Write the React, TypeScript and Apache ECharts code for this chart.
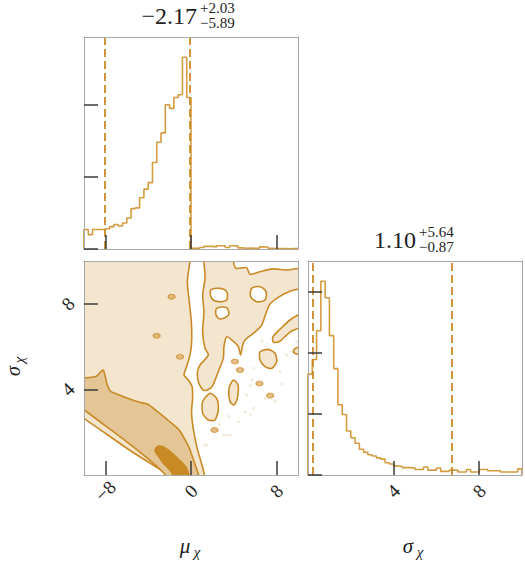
import React, { useEffect, useRef } from "react";
import * as echarts from "echarts";

// ---------- data ----------
const muRange = [-10, 10];
const sigmaRange = [0, 10];

// normalised histogram heights of mu_chi (50 bins over muRange)
const muHist = [
  0.27, 0.2, 0.27, 0.27, 0.27, 0.28, 0.31, 0.34, 0.32, 0.36,
  0.43, 0.56, 0.57, 0.71, 0.83, 0.92, 1.2, 1.48, 1.61, 2.0,
  1.95, 2.1, 2.14, 2.66, 2.1, 0.01, 0.01, 0.02, 0.037, 0.037,
  0.03, 0.046, 0.046, 0.02, 0.046, 0.04, 0.015, 0.01, 0.012, 0.01,
  0.01, 0.03, 0.028, 0.008, 0.006, 0.005, 0.006, 0.004, 0.005, 0.005,
];
// normalised histogram heights of sigma_chi (50 bins over sigmaRange)
const sigmaHist = [
  1.65, 1.89, 2.36, 3.17, 2.9, 2.28, 1.74, 1.15, 0.99, 0.72,
  0.61, 0.52, 0.42, 0.37, 0.33, 0.31, 0.28, 0.26, 0.2, 0.18,
  0.15, 0.14, 0.12, 0.12, 0.115, 0.09, 0.09, 0.13, 0.08, 0.08,
  0.115, 0.06, 0.06, 0.08, 0.08, 0.05, 0.05, 0.09, 0.05, 0.05,
  0.09, 0.09, 0.07, 0.07, 0.07, 0.05, 0.05, 0.05, 0.05, 0.1,
];
const muQuantiles = [-8.06, -0.14];
const sigmaQuantiles = [0.23, 6.74];
const muTitle = { median: "\u22122.17", plus: "+2.03", minus: "\u22125.89" };
const sigmaTitle = { median: "1.10", plus: "+5.64", minus: "\u22120.87" };

const muTicks = [-8, 0, 8];
const sigmaTicks = [4, 8];
const muHistTicks = [0, 1, 2];
const sigmaHistTicks = [0, 1, 2, 3];
const muHistMax = 2.94;
const sigmaHistMax = 3.5;

// 2D contour regions (mu, sigma)
const outerLevel = [
  [[-10.5, 10.5], [-0.1, 10.5], [-0.1, 10], [-0.34, 9.03], [-0.16, 8.1], [0.03, 7.17], [0.06, 6.23],
   [-0.09, 5.61], [-0.47, 4.98], [-0.65, 4.67], [-0.25, 4.44], [0.1, 4.13], [0.15, 3.58], [0.05, 2.96],
   [0.2, 2.2], [0.55, 1.3], [0.95, 0.6], [1.25, 0], [1.3, -0.5], [-2.3, -0.5], [-2.2, 0], [-4, 0.6],
   [-6, 1.25], [-8, 1.95], [-10, 2.65], [-10.5, 2.9]],
  [[1.21, 10.5], [3.96, 10.5], [3.96, 10], [4.21, 9.66], [5.2, 9.69], [5.51, 9.38], [6.45, 9.5],
   [7.69, 9.63], [8.94, 9.58], [10.5, 9.63], [10.5, 8.8], [9.3, 8.6], [8.3, 8.35], [7.4, 8.0],
   [7.0, 7.55], [6.6, 7.0], [5.83, 6.62], [5.05, 6.31], [4.83, 6.07], [4.64, 5.61], [4.42, 6.0],
   [3.8, 6.31], [3.33, 6.46], [3.08, 6.0], [3.02, 5.45], [2.55, 4.83], [1.93, 4.1], [1.2, 3.95],
   [0.72, 4.3], [0.6, 4.8], [0.84, 5.14], [1.62, 5.61], [1.31, 5.92], [1.09, 6.7], [1.21, 7.63],
   [1.09, 8.41], [1.31, 9.19], [1.21, 10]],
  [[10.5, 7.55], [10.5, 7.0], [9.3, 6.7], [8.3, 6.25], [7.7, 6.2], [7.65, 6.45], [8.4, 6.85], [9.4, 7.3]],
  [[6.45, 5.76], [7.23, 5.87], [7.85, 5.69], [8.01, 5.3], [7.54, 4.98], [6.92, 5.06], [6.45, 5.37]],
  [[1.78, 3.82], [2.4, 3.58], [2.55, 3.04], [2.24, 2.57], [1.62, 2.57], [1.09, 2.88], [1.09, 3.43]],
  [[3.96, 4.44], [4.39, 4.21], [4.33, 3.58], [4.02, 3.27], [3.64, 3.43], [3.55, 4.05]],
  [[10.5, 6.0], [9.7, 5.9], [9.6, 5.72], [10.5, 5.6]],
];
const outerHoles = [
  [[1.84, 8.64], [2.71, 8.72], [3.33, 8.57], [3.33, 8.18], [2.55, 8.1], [1.93, 8.26]],
  [[2.4, 7.79], [3.33, 7.82], [3.52, 7.48], [2.71, 7.29], [2.34, 7.48]],
  [[5.67, 8.72], [6.45, 8.8], [7.01, 8.57], [6.92, 8.18], [6.14, 8.1], [5.58, 8.33]],
];
const middleLevel = [
  [[-10.5, 4.45], [-8.9, 4.6], [-8.2, 4.9], [-7.85, 4.25], [-7.5, 3.9], [-7.0, 3.8], [-6.0, 3.6],
   [-4.8, 3.4], [-4.0, 3.3], [-3.1, 2.95], [-2.0, 2.5], [-1.3, 2.2], [-0.9, 1.95], [-0.2, 1.3],
   [0.1, 0.9], [0.45, 0.4], [0.7, 0], [0.75, -0.5], [-2.5, -0.5], [-2.4, 0], [-4, 0.75],
   [-6, 1.55], [-8, 2.3], [-10, 3.05], [-10.5, 3.25]],
];
const innerLevel = [
  [[-3.35, 1.2], [-3.0, 1.35], [-2.6, 1.32], [-2.0, 1.12], [-1.4, 0.85], [-0.9, 0.6], [-0.4, 0.3],
   [-0.2, -0.3], [-1.6, -0.3], [-1.7, 0], [-2.0, 0.25], [-2.5, 0.5], [-3.0, 0.85], [-3.3, 1.05]],
];
const smallBlobs = [
  [-1.81, 8.33], [-3.21, 6.51], [-1.03, 5.53], [4.11, 5.3], [4.58, 4.91], [6.4, 4.28], [7.4, 3.71], [2.2, 2.1],
];
const faintPoints = [
  [5.7, 4.44], [5.55, 4.17], [6.95, 3.58], [7.88, 3.46], [5.08, 2.96], [5.55, 2.83], [3.52, 2.73],
  [3.05, 1.87], [3.68, 1.87], [1.28, 1.4], [2.65, 2.37], [8.5, 4.24], [5.86, 4.98], [7.88, 5.47],
  [9.44, 5.78], [6.64, 6.25], [8.94, 5.61], [8.32, 4.83], [5.2, 3.74], [5.83, 3.12], [4.42, 2.49],
  [3.33, 1.87], [1.46, 1.4], [9.88, 6.23], [4.58, 6.7],
];

// ---------- style ----------
const gold = "#c98a26";
const histLine = "#d49c40";
const lightFill = "#f3e5ce";
const midFill = "#e3c596";
const darkFill = "#c98a26";
const frame = "#a8a8a8";
const serif = "Liberation Serif";
const ink = "#222";

function stepData(values: number[], range: number[]) {
  const w = (range[1] - range[0]) / values.length;
  const pts: number[][] = [[range[0], 0]];
  values.forEach((v, i) => pts.push([range[0] + i * w, v]));
  pts.push([range[1], values[values.length - 1]]);
  pts.push([range[1], 0]);
  return pts;
}

const fmt = (v: number) => (v < 0 ? "\u2212" + Math.abs(v) : String(v));

function axisBase(gridIndex: number, min: number, max: number, position: string, ticks: number[] | null, labels: boolean) {
  return {
    type: "value",
    gridIndex,
    min,
    max,
    position,
    z: 10,
    axisLine: { show: true, onZero: false, lineStyle: { color: frame, width: 1 } },
    splitLine: { show: false },
    axisTick: ticks
      ? { show: true, inside: true, length: 14, customValues: ticks, lineStyle: { color: "#3a3a3a", width: 1.5 } }
      : { show: false },
    axisLabel: labels && ticks
      ? {
          show: true,
          customValues: ticks,
          rotate: 45,
          align: "center",
          verticalAlign: "middle",
          margin: 16,
          fontSize: 19,
          fontFamily: serif,
          color: ink,
          formatter: fmt,
        }
      : { show: false },
  };
}

function polySeries(polys: number[][][], fill: string, smooth: number, z: number) {
  return {
    type: "custom",
    xAxisIndex: 1,
    yAxisIndex: 1,
    clip: true,
    silent: true,
    z,
    data: polys.map((p, i) => {
      const cx = p.reduce((s, q) => s + q[0], 0) / p.length;
      const cy = p.reduce((s, q) => s + q[1], 0) / p.length;
      return [Math.max(-10, Math.min(10, cx)), Math.max(0, Math.min(10, cy)), i];
    }),
    renderItem: (_params: any, api: any) => {
      const poly = polys[api.value(2)];
      return {
        type: "polygon",
        shape: { points: poly.map((pt) => api.coord(pt)), smooth },
        style: { fill, stroke: gold, lineWidth: 1.6, lineJoin: "round" },
      };
    },
  };
}

function txt(text: string, x: number, y: number, size: number, align: string, italic = false, rotation = 0) {
  return {
    type: "text",
    x,
    y,
    rotation,
    style: {
      text,
      fontSize: size,
      fontFamily: serif,
      fontStyle: italic ? "italic" : "normal",
      fill: ink,
      align,
      verticalAlign: "middle",
    },
  };
}

function titleTexts(t: { median: string; plus: string; minus: string }, cx: number, cy: number) {
  return [
    txt(t.median, cx, cy, 24, "right"),
    txt(t.plus, cx + 3, cy - 8.5, 15, "left"),
    txt(t.minus, cx + 3, cy + 7, 15, "left"),
  ];
}

function buildOption() {
  const dashed = (vals: number[]) => ({
    silent: true,
    symbol: ["none", "none"],
    label: { show: false },
    lineStyle: { type: [8, 4], color: gold, width: 1.8 },
    data: vals.map((v) => ({ xAxis: v })),
  });
  return {
    animation: false,
    backgroundColor: "#ffffff",
    textStyle: { fontFamily: serif },
    grid: [
      { left: 84, top: 37, width: 214, height: 212 },
      { left: 84, top: 261, width: 214, height: 214 },
      { left: 308, top: 261, width: 214, height: 214 },
    ],
    xAxis: [
      axisBase(0, muRange[0], muRange[1], "bottom", muTicks, false),
      axisBase(1, muRange[0], muRange[1], "bottom", muTicks, true),
      axisBase(2, sigmaRange[0], sigmaRange[1], "bottom", sigmaTicks, true),
      axisBase(0, muRange[0], muRange[1], "top", null, false),
      axisBase(1, muRange[0], muRange[1], "top", null, false),
      axisBase(2, sigmaRange[0], sigmaRange[1], "top", null, false),
    ],
    yAxis: [
      axisBase(0, 0, muHistMax, "left", muHistTicks, false),
      axisBase(1, sigmaRange[0], sigmaRange[1], "left", sigmaTicks, true),
      axisBase(2, 0, sigmaHistMax, "left", sigmaHistTicks, false),
      axisBase(0, 0, muHistMax, "right", null, false),
      axisBase(1, sigmaRange[0], sigmaRange[1], "right", null, false),
      axisBase(2, 0, sigmaHistMax, "right", null, false),
    ],
    series: [
      {
        type: "line",
        xAxisIndex: 0,
        yAxisIndex: 0,
        data: stepData(muHist, muRange),
        step: "end",
        symbol: "none",
        silent: true,
        lineStyle: { color: histLine, width: 1.6 },
        markLine: dashed(muQuantiles),
        z: 3,
      },
      {
        type: "line",
        xAxisIndex: 2,
        yAxisIndex: 2,
        data: stepData(sigmaHist, sigmaRange),
        step: "end",
        symbol: "none",
        silent: true,
        lineStyle: { color: histLine, width: 1.6 },
        markLine: dashed(sigmaQuantiles),
        z: 3,
      },
      {
        type: "scatter",
        xAxisIndex: 1,
        yAxisIndex: 1,
        data: faintPoints,
        symbolSize: 3,
        silent: true,
        itemStyle: { color: "#f1e4cf" },
        z: 1,
      },
      polySeries(outerLevel, lightFill, 0.25, 2),
      polySeries(outerHoles, "#ffffff", 0.3, 3),
      polySeries(middleLevel, midFill, 0.2, 4),
      polySeries(innerLevel, darkFill, 0.3, 5),
      {
        type: "scatter",
        xAxisIndex: 1,
        yAxisIndex: 1,
        data: smallBlobs,
        symbol: "circle",
        symbolSize: [7, 5],
        silent: true,
        itemStyle: { color: "#dcae66", borderColor: gold, borderWidth: 1 },
        z: 6,
      },
    ],
    graphic: [
      ...titleTexts(muTitle, 197, 16),
      ...titleTexts(sigmaTitle, 416, 240),
      txt("\u03bc", 185, 546, 21, "center", true),
      txt("\u03c7", 197, 552, 15, "center", true),
      txt("\u03c3", 408, 546, 21, "center", true),
      txt("\u03c7", 420, 552, 15, "center", true),
      txt("\u03c3", 13, 371, 20, "center", true, Math.PI / 2),
      txt("\u03c7", 19, 360, 15, "center", true, Math.PI / 2),
    ],
  };
}

export default function App() {
  const ref = useRef<HTMLDivElement>(null);
  useEffect(() => {
    const chart = echarts.init(ref.current!, null, { renderer: "svg" });
    chart.setOption(buildOption() as any);
    return () => chart.dispose();
  }, []);
  return (
    <div
      ref={ref}
      style={{ position: "fixed", left: 0, top: 0, width: 525, height: 562, background: "#fff" }}
    />
  );
}
